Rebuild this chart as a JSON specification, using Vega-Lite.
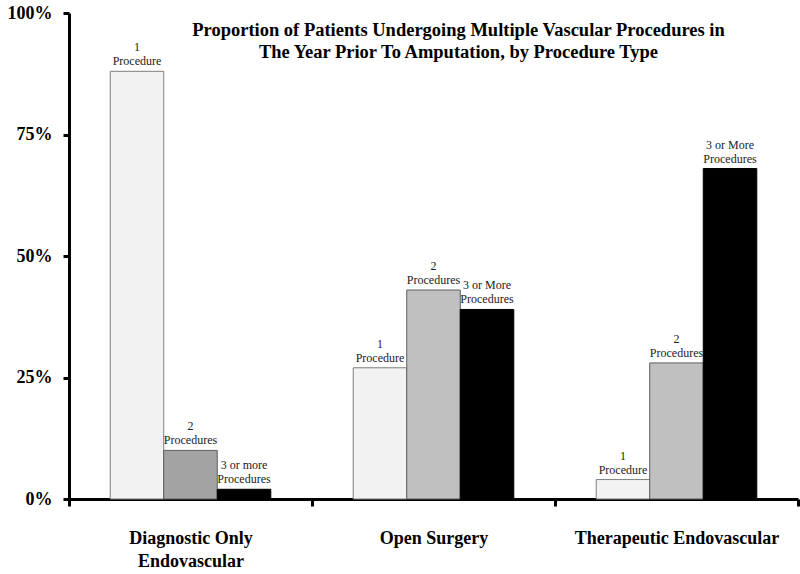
{
  "$schema": "https://vega.github.io/schema/vega-lite/v6.json",
  "width": 729,
  "height": 486,
  "autosize": {"type": "none"},
  "padding": {"left": 69, "top": 13, "right": 2, "bottom": 75},
  "background": "white",
  "config": {"view": {"stroke": null}, "font": "Liberation Serif"},
  "title": {
    "text": ["Proportion of Patients Undergoing Multiple Vascular Procedures in", "The Year Prior To Amputation, by Procedure Type"],
    "font": "Liberation Serif",
    "fontSize": 18.5,
    "fontWeight": "bold",
    "color": "black",
    "anchor": "middle",
    "dx": 25,
    "offset": -57,
    "lineHeight": 22
  },
  "data": {
    "values": [
      {"group": "Diagnostic Only Endovascular", "n": 1, "value": 0.88, "label": ["1", "Procedure"]},
      {"group": "Diagnostic Only Endovascular", "n": 2, "value": 0.10, "label": ["2", "Procedures"]},
      {"group": "Diagnostic Only Endovascular", "n": 3, "value": 0.02, "label": ["3 or more", "Procedures"]},
      {"group": "Open Surgery", "n": 1, "value": 0.27, "label": ["1", "Procedure"]},
      {"group": "Open Surgery", "n": 2, "value": 0.43, "label": ["2", "Procedures"]},
      {"group": "Open Surgery", "n": 3, "value": 0.39, "label": ["3 or More", "Procedures"]},
      {"group": "Therapeutic Endovascular", "n": 1, "value": 0.04, "label": ["1", "Procedure"]},
      {"group": "Therapeutic Endovascular", "n": 2, "value": 0.28, "label": ["2", "Procedures"]},
      {"group": "Therapeutic Endovascular", "n": 3, "value": 0.68, "label": ["3 or More", "Procedures"]}
    ]
  },
  "encoding": {
    "x": {
      "field": "group",
      "type": "nominal",
      "sort": null,
      "scale": {"paddingInner": 0, "paddingOuter": 0},
      "axis": {
        "title": null,
        "labelAngle": 0,
        "labelFont": "Liberation Serif",
        "labelFontSize": 18,
        "labelFontWeight": "bold",
        "labelColor": "black",
        "labelPadding": 23,
        "labelLineHeight": 23,
        "labelLimit": 400,
        "labelExpr": "datum.value == 'Diagnostic Only Endovascular' ? ['Diagnostic Only', 'Endovascular'] : datum.value",
        "domainColor": "black",
        "domainWidth": 3,
        "tickBand": "extent",
        "tickColor": "black",
        "tickWidth": 3,
        "tickSize": 7
      }
    },
    "xOffset": {
      "field": "n",
      "type": "nominal",
      "scale": {"paddingInner": 0, "paddingOuter": 0.77}
    },
    "y": {
      "field": "value",
      "type": "quantitative",
      "scale": {"domain": [0, 1]},
      "axis": {
        "title": null,
        "values": [0, 0.25, 0.5, 0.75, 1],
        "format": ".0%",
        "grid": false,
        "labelFont": "Liberation Serif",
        "labelFontSize": 18,
        "labelFontWeight": "bold",
        "labelColor": "black",
        "labelPadding": 11,
        "domainColor": "black",
        "domainWidth": 3,
        "tickColor": "black",
        "tickWidth": 3,
        "tickSize": 6
      }
    }
  },
  "layer": [
    {
      "mark": {"type": "bar", "strokeWidth": 1},
      "encoding": {
        "color": {
          "condition": {"test": "datum.group === 'Diagnostic Only Endovascular' && datum.n === 2", "value": "#a3a3a3"},
          "field": "n",
          "type": "nominal",
          "scale": {"domain": [1, 2, 3], "range": ["#f2f2f2", "#c0c0c0", "#000000"]},
          "legend": null
        },
        "stroke": {
          "field": "n",
          "type": "nominal",
          "scale": {"domain": [1, 2, 3], "range": ["#7f7f7f", "#5f5f5f", "#000000"]},
          "legend": null
        }
      }
    },
    {
      "mark": {"type": "text", "baseline": "bottom", "align": "center", "dy": -17, "fontSize": 12, "font": "Liberation Serif", "lineHeight": 14, "color": "#222222"},
      "encoding": {
        "text": {"field": "label"}
      }
    }
  ]
}
